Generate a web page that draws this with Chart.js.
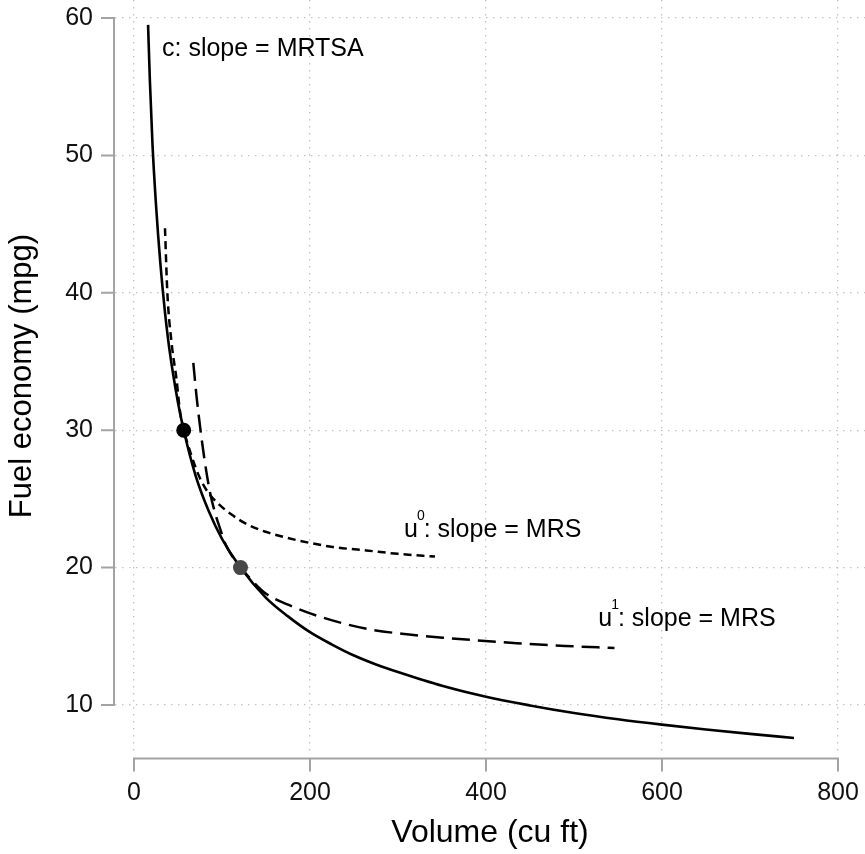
<!DOCTYPE html>
<html>
<head>
<meta charset="utf-8">
<script src="https://cdn.jsdelivr.net/npm/chart.js@4.4.1/dist/chart.umd.min.js"></script>
<style>
  body { margin: 0; background: #fff; }
  #caixa { width: 865px; height: 854px; }
</style>
</head>
<body>
<div id="caixa"><canvas id="grafico"></canvas></div>
<script>
// curva c (slope = MRTSA)
const cX = [16, 18, 21, 25, 30, 35, 40, 50, 56.5, 70, 85, 100, 121, 150, 175, 200, 225, 250, 275, 300, 350, 400, 450, 500, 550, 600, 650, 700, 750];
const cY = [59.5, 55.5, 50.8, 46.4, 42.1, 38.7, 36.0, 32.0, 30.0, 26.7, 24.1, 22.1, 20.0, 17.8, 16.45, 15.3, 14.4, 13.6, 12.95, 12.4, 11.4, 10.6, 9.97, 9.42, 8.96, 8.57, 8.22, 7.9, 7.6];

// u0 (pontilhada)
const u0X = [35.2, 37.9, 42.8, 48.5, 52, 56.5, 65, 75, 85, 95, 110, 130, 155, 185, 226, 264, 300, 342];
const u0Y = [44.7, 40.0, 36.3, 33.6, 31.5, 30.05, 28.2, 26.5, 25.4, 24.7, 23.9, 23.1, 22.5, 22.0, 21.5, 21.25, 21.0, 20.8];

// u1 (tracejada longa)
const u1X = [67.4, 71, 75, 80, 86, 92, 98, 104, 112, 121, 135, 150, 175, 201, 240, 273, 310, 351, 435, 490, 546];
const u1Y = [34.9, 32.5, 30.3, 27.9, 25.6, 24.0, 22.8, 21.7, 20.8, 20.05, 19.0, 18.1, 17.3, 16.65, 15.9, 15.45, 15.15, 14.9, 14.5, 14.3, 14.15];

// pontos de tangência
const dotX = [56.5, 121];
const dotY = [30, 20];

const xTicks = [0, 200, 400, 600, 800];
const yTicks = [10, 20, 30, 40, 50, 60];

const fonte = '"Liberation Sans", Arial, sans-serif';

function pontos(xs, ys) {
  return xs.map((v, i) => ({ x: v, y: ys[i] }));
}

// eixos no estilo Stata, afastados da área do gráfico
const eixos = {
  id: 'eixos',
  afterDraw(chart) {
    const { ctx, chartArea, scales: { x, y } } = chart;
    const ax = chartArea.left - 1;
    const ay = chartArea.bottom + 6.5;
    const tam = 13;
    ctx.save();
    ctx.strokeStyle = '#a3a3a3';
    ctx.lineWidth = 2;
    ctx.lineJoin = 'miter';

    const y0 = y.getPixelForValue(yTicks[0]);
    const y1 = y.getPixelForValue(yTicks[yTicks.length - 1]);
    ctx.beginPath();
    ctx.moveTo(ax - tam, y1);
    ctx.lineTo(ax, y1);
    ctx.lineTo(ax, y0);
    ctx.lineTo(ax - tam, y0);
    for (let i = 1; i < yTicks.length - 1; i++) {
      const p = y.getPixelForValue(yTicks[i]);
      ctx.moveTo(ax, p);
      ctx.lineTo(ax - tam, p);
    }
    ctx.stroke();

    const x0 = x.getPixelForValue(xTicks[0]);
    const x1 = x.getPixelForValue(xTicks[xTicks.length - 1]);
    ctx.beginPath();
    ctx.moveTo(x0, ay + tam);
    ctx.lineTo(x0, ay);
    ctx.lineTo(x1, ay);
    ctx.lineTo(x1, ay + tam);
    for (let i = 1; i < xTicks.length - 1; i++) {
      const p = x.getPixelForValue(xTicks[i]);
      ctx.moveTo(p, ay);
      ctx.lineTo(p, ay + tam);
    }
    ctx.stroke();
    ctx.restore();
  }
};

function sobrescrito(ctx, base, sup, resto, px, py) {
  ctx.font = '25px ' + fonte;
  ctx.fillText(base, px, py);
  const w = ctx.measureText(base).width;
  ctx.font = '14px ' + fonte;
  ctx.fillText(sup, px + w - 1, py - 17);
  const w2 = ctx.measureText(sup).width;
  ctx.font = '25px ' + fonte;
  ctx.fillText(resto, px + w + w2 - 2, py);
}

// rótulos das curvas
const textos = {
  id: 'textos',
  afterDatasetsDraw(chart) {
    const { ctx, scales: { x, y } } = chart;
    ctx.save();
    ctx.fillStyle = '#000';
    ctx.textBaseline = 'alphabetic';
    ctx.textAlign = 'left';
    ctx.font = '25px ' + fonte;
    ctx.fillText('c: slope = MRTSA', x.getPixelForValue(31.8), y.getPixelForValue(57.2));
    sobrescrito(ctx, 'u', '0', ': slope = MRS', x.getPixelForValue(306.8), y.getPixelForValue(22.2));
    sobrescrito(ctx, 'u', '1', ': slope = MRS', x.getPixelForValue(527.6), y.getPixelForValue(15.75));
    ctx.restore();
  }
};

Chart.defaults.font.family = fonte;

new Chart(document.getElementById('grafico'), {
  type: 'scatter',
  data: {
    datasets: [
      {
        label: 'pontos',
        data: pontos(dotX, dotY),
        pointRadius: 7.5,
        pointBackgroundColor: ['#000000', '#474747'],
        pointBorderWidth: 0,
        showLine: false
      },
      {
        label: 'c',
        data: pontos(cX, cY),
        showLine: true,
        borderColor: '#000',
        borderWidth: 2.6,
        pointRadius: 0,
        cubicInterpolationMode: 'monotone'
      },
      {
        label: 'u0',
        data: pontos(u0X, u0Y),
        showLine: true,
        borderColor: '#000',
        borderWidth: 2.5,
        borderDash: [8, 5],
        pointRadius: 0,
        cubicInterpolationMode: 'monotone'
      },
      {
        label: 'u1',
        data: pontos(u1X, u1Y),
        showLine: true,
        borderColor: '#000',
        borderWidth: 2.5,
        borderDash: [18, 8],
        pointRadius: 0,
        cubicInterpolationMode: 'monotone'
      }
    ]
  },
  options: {
    responsive: true,
    maintainAspectRatio: false,
    animation: false,
    layout: { padding: 0, autoPadding: false },
    plugins: {
      legend: { display: false },
      tooltip: { enabled: false }
    },
    scales: {
      x: {
        type: 'linear',
        min: -21.6,
        max: 830.7,
        afterBuildTicks: (s) => { s.ticks = xTicks.map(v => ({ value: v })); },
        afterFit: (s) => { s.height = 102; s.paddingLeft = 0; s.paddingRight = 0; },
        grid: { color: '#c4c4c4', lineWidth: 1.3, drawTicks: false },
        border: { display: false, dash: [1.5, 5.5] },
        ticks: { color: '#111', font: { size: 25 }, padding: 26, maxRotation: 0 },
        title: {
          display: true,
          text: 'Volume (cu ft)',
          color: '#000',
          font: { size: 32 },
          padding: { top: 0, bottom: 2 }
        }
      },
      y: {
        type: 'linear',
        min: 6.58,
        max: 61.31,
        afterBuildTicks: (s) => { s.ticks = yTicks.map(v => ({ value: v })); },
        afterFit: (s) => { s.width = 115; s.paddingTop = 0; s.paddingBottom = 0; },
        grid: { color: '#c4c4c4', lineWidth: 1.3, drawTicks: false },
        border: { display: false, dash: [1.5, 5.5] },
        ticks: { color: '#111', font: { size: 25 }, padding: 22 },
        title: {
          display: true,
          text: 'Fuel economy (mpg)',
          color: '#000',
          font: { size: 31 },
          padding: { top: 4, bottom: 0 }
        }
      }
    }
  },
  plugins: [eixos, textos]
});
</script>
</body>
</html>
